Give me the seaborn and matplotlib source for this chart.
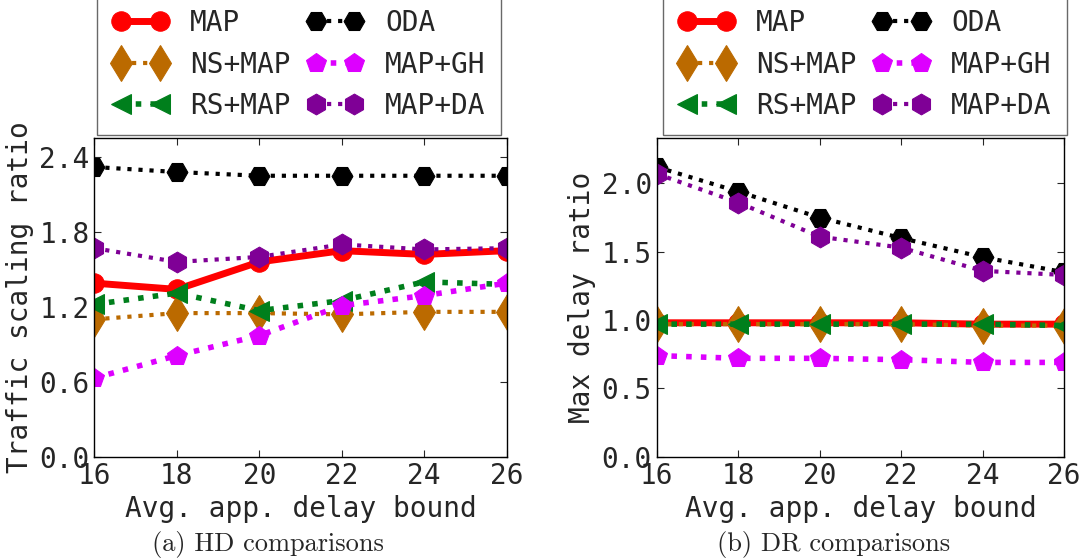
import pandas as pd
import matplotlib
matplotlib.use("Agg")
import matplotlib.pyplot as plt
import seaborn as sns

# x values: average app delay bound
delay_bound = [16, 18, 20, 22, 24, 26]
methods = ["MAP", "NS+MAP", "RS+MAP", "ODA", "MAP+GH", "MAP+DA"]

# (a) traffic scaling ratio (HD comparisons)
hd_map = [1.39, 1.34, 1.56, 1.65, 1.62, 1.65]
hd_ns_map = [1.10, 1.15, 1.15, 1.14, 1.16, 1.16]
hd_rs_map = [1.22, 1.31, 1.17, 1.25, 1.40, 1.38]
hd_oda = [2.32, 2.28, 2.25, 2.25, 2.25, 2.25]
hd_map_gh = [0.63, 0.81, 0.97, 1.21, 1.29, 1.39]
hd_map_da = [1.67, 1.56, 1.60, 1.70, 1.66, 1.67]

# (b) max delay ratio (DR comparisons)
dr_map = [0.98, 0.98, 0.98, 0.98, 0.97, 0.97]
dr_ns_map = [0.97, 0.97, 0.97, 0.97, 0.96, 0.96]
dr_rs_map = [0.97, 0.97, 0.97, 0.97, 0.97, 0.96]
dr_oda = [2.12, 1.94, 1.75, 1.60, 1.46, 1.35]
dr_map_gh = [0.74, 0.72, 0.72, 0.71, 0.69, 0.69]
dr_map_da = [2.07, 1.86, 1.61, 1.53, 1.36, 1.33]

hd = pd.DataFrame({"x": delay_bound, "MAP": hd_map, "NS+MAP": hd_ns_map, "RS+MAP": hd_rs_map,
                   "ODA": hd_oda, "MAP+GH": hd_map_gh, "MAP+DA": hd_map_da})
dr = pd.DataFrame({"x": delay_bound, "MAP": dr_map, "NS+MAP": dr_ns_map, "RS+MAP": dr_rs_map,
                   "ODA": dr_oda, "MAP+GH": dr_map_gh, "MAP+DA": dr_map_da})

styles = {
    "MAP":    dict(color="#ff0000", marker="o", linestyle="-", lw=5, markersize=14),
    "NS+MAP": dict(color="#bb6a00", marker="d", linestyle=":", lw=3, markersize=18),
    "RS+MAP": dict(color="#007f1c", marker="<", linestyle=":", lw=4, markersize=15),
    "ODA":    dict(color="#000000", marker="H", linestyle=":", lw=3, markersize=15),
    "MAP+GH": dict(color="#dd00ff", marker="p", linestyle=":", lw=4, markersize=15),
    "MAP+DA": dict(color="#7f0096", marker="h", linestyle=":", lw=3, markersize=15),
}

sns.set_style("ticks")
plt.rcParams["font.family"] = ["DejaVu Sans Mono"]

fig = plt.figure(figsize=(10.88, 5.59), dpi=100)
ax1 = fig.add_axes([0.0867, 0.183, 0.379, 0.5696])
ax2 = fig.add_axes([0.6036, 0.183, 0.3744, 0.5696])

for ax, df in [(ax1, hd), (ax2, dr)]:
    for m in methods:
        st = styles[m]
        sns.lineplot(data=df, x="x", y=m, ax=ax, label=m, mec=st["color"], **st)
    ax.set_xlim(16, 26)
    ax.set_xticks(delay_bound)
    ax.set_xlabel("Avg. app. delay bound", fontsize=20, labelpad=4)
    ax.tick_params(direction="in", top=True, right=True, labelsize=20, length=5, width=0.8)
    for s in ax.spines.values():
        s.set_color("black")
        s.set_linewidth(1)

ax1.set_ylim(0, 2.55)
ax1.set_yticks([0.0, 0.6, 1.2, 1.8, 2.4])
ax1.set_ylabel("Traffic scaling ratio", fontsize=20, labelpad=4)
ax2.set_ylim(0, 2.33)
ax2.set_yticks([0.0, 0.5, 1.0, 1.5, 2.0])
ax2.set_ylabel("Max delay ratio", fontsize=20, labelpad=4)

legend_kw = dict(loc="lower left", ncol=2, fontsize=20, numpoints=2, frameon=True,
                 fancybox=False, edgecolor="#444444", handlelength=2.0, handletextpad=0.8,
                 columnspacing=0.6, borderpad=0.55, labelspacing=0.48, borderaxespad=0)
ax1.legend(bbox_to_anchor=(0.0065, 1.01), **legend_kw)
ax2.legend(bbox_to_anchor=(0.016, 1.01), **legend_kw)

fig.text(0.246, 0.015, "(a) HD comparisons", family="cmr10", fontsize=19, ha="center")
fig.text(0.766, 0.015, "(b) DR comparisons", family="cmr10", fontsize=19, ha="center")

fig.savefig("out.png", dpi=100)
